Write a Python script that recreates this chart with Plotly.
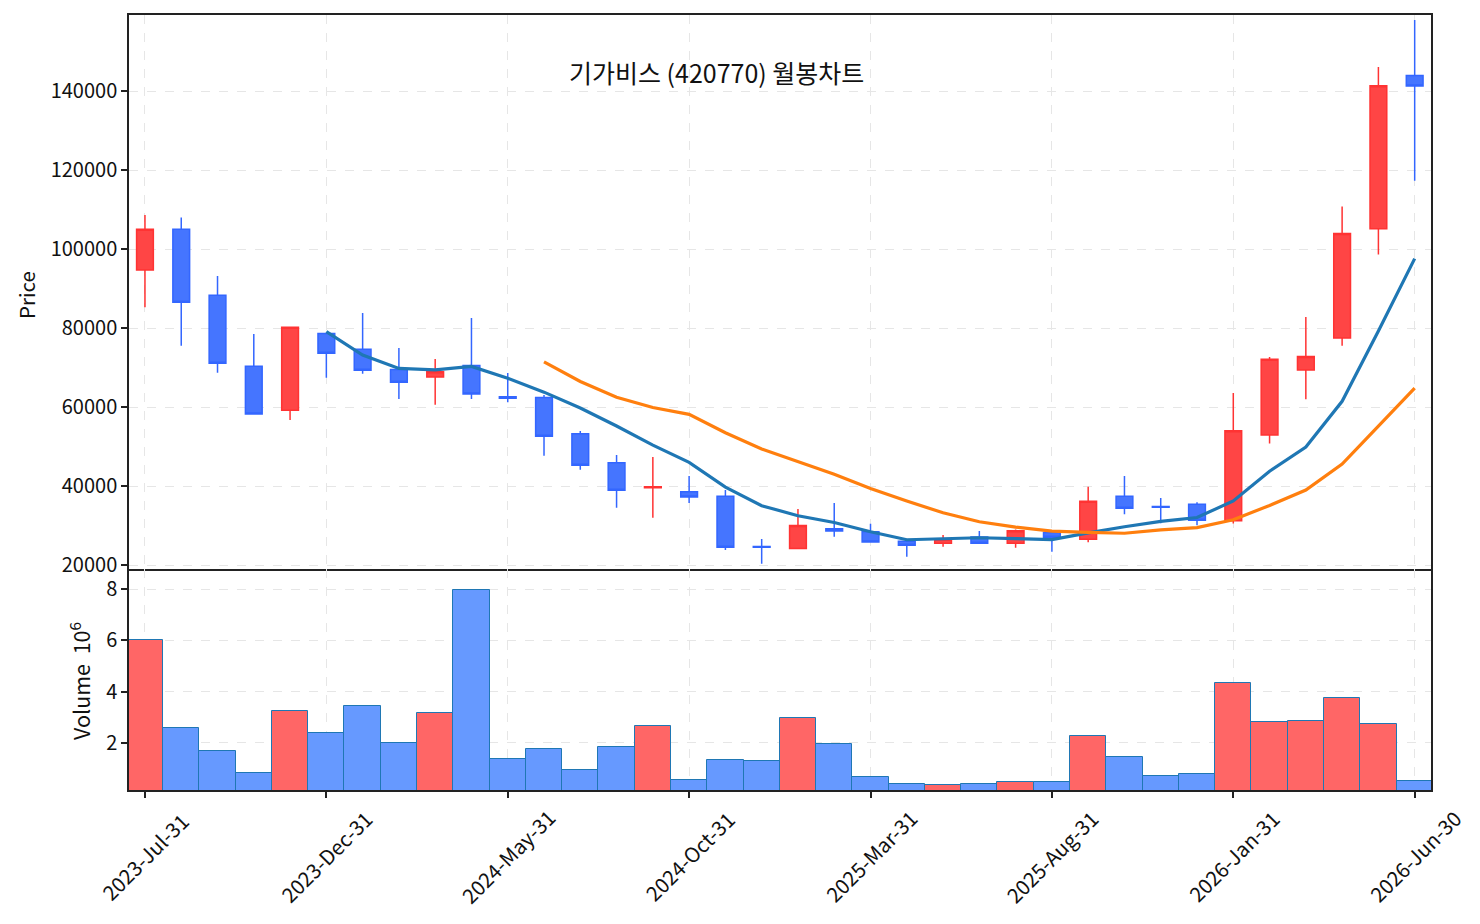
import plotly.graph_objects as go
import pandas as pd

# ---- data (monthly candles) ----
date_labels = ["2023-Jul-31", "2023-Aug-31", "2023-Sep-30", "2023-Oct-31", "2023-Nov-30", "2023-Dec-31",
               "2024-Jan-31", "2024-Feb-29", "2024-Mar-31", "2024-Apr-30", "2024-May-31", "2024-Jun-30",
               "2024-Jul-31", "2024-Aug-31", "2024-Sep-30", "2024-Oct-31", "2024-Nov-30", "2024-Dec-31",
               "2025-Jan-31", "2025-Feb-28", "2025-Mar-31", "2025-Apr-30", "2025-May-31", "2025-Jun-30",
               "2025-Jul-31", "2025-Aug-31", "2025-Sep-30", "2025-Oct-31", "2025-Nov-30", "2025-Dec-31",
               "2026-Jan-31", "2026-Feb-28", "2026-Mar-31", "2026-Apr-30", "2026-May-31", "2026-Jun-30"]

open_ = [94700, 105000, 88300, 70300, 59200, 78600, 74600, 69500, 67600, 70500, 62600, 62400,
         53200, 45900, 39550, 38560, 37390, 24700, 24200, 29200, 28430, 26000, 25500, 27100,
         25500, 28200, 26500, 37390, 34800, 35360, 31200, 52900, 69400, 77500, 105100, 143900]
high = [108600, 108000, 93160, 78480, 80250, 78650, 83800, 74940, 72150, 82530, 68600, 63040,
        53920, 47850, 47340, 42530, 38990, 26580, 34180, 35700, 30460, 26000, 27600, 28600,
        29000, 28400, 39820, 42530, 36960, 35870, 63570, 72660, 82760, 110790, 146050, 157970]
low = [85240, 75500, 68700, 58200, 56700, 67420, 68430, 62030, 60580, 62030, 61200, 47670,
       44130, 34510, 31980, 35700, 23800, 20330, 24200, 27170, 25820, 22100, 24630, 25490,
       24380, 23370, 25750, 32840, 30550, 30050, 30480, 50730, 61950, 75520, 98580, 117290]
close = [105000, 86500, 71100, 58200, 80200, 73600, 69300, 66250, 68950, 63290, 62200, 52600,
         45240, 38900, 39800, 37210, 24480, 24500, 30000, 28600, 25820, 24990, 26500, 25500,
         28680, 27010, 36120, 34350, 34600, 31310, 54000, 72080, 72810, 103900, 141340, 141240]
volume_millions = [6.0, 2.57, 1.69, 0.83, 3.23, 2.38, 3.44, 2.0, 3.16, 7.95, 1.38, 1.75,
                   0.95, 1.83, 2.66, 0.55, 1.32, 1.29, 2.96, 1.95, 0.66, 0.39, 0.36, 0.39,
                   0.47, 0.47, 2.26, 1.44, 0.70, 0.78, 4.32, 2.81, 2.84, 3.74, 2.73, 0.51]
ma_windows = [6, 12]
price_ticks = [20000, 40000, 60000, 80000, 100000, 120000, 140000]
volume_ticks = [2, 4, 6, 8]
title_text = "기가비스 (420770) 월봉차트"

# ---- derived ----
idx = list(range(len(close)))
close_s = pd.Series(close)
ma_short = close_s.rolling(ma_windows[0]).mean()
ma_long = close_s.rolling(ma_windows[1]).mean()
up = [c >= o for o, c in zip(open_, close)]
vol_colors = ["#ff6666" if u else "#6699ff" for u in up]
tick_idx = idx[::5]
tick_txt = [date_labels[i] for i in tick_idx]

FONT = "Noto Sans CJK KR"
AXC = "#222222"
GRID = "#e6e6e6"
FS = 20.5

fig = go.Figure()
fig.add_trace(go.Candlestick(
    x=idx, open=open_, high=high, low=low, close=close,
    increasing=dict(line=dict(color="#ff3333", width=1.5), fillcolor="#ff4545"),
    decreasing=dict(line=dict(color="#3366ff", width=1.5), fillcolor="#4575ff"),
    whiskerwidth=0, xaxis="x", yaxis="y", showlegend=False))
fig.add_trace(go.Scatter(x=idx, y=ma_short, mode="lines",
                         line=dict(color="#1f77b4", width=3.2), xaxis="x", yaxis="y", showlegend=False))
fig.add_trace(go.Scatter(x=idx, y=ma_long, mode="lines",
                         line=dict(color="#ff7f0e", width=3.2), xaxis="x", yaxis="y", showlegend=False))
fig.add_trace(go.Bar(x=idx, y=volume_millions, width=1.0,
                     marker=dict(color=vol_colors, line=dict(color="#1f77b4", width=1)),
                     xaxis="x2", yaxis="y2", showlegend=False))

W, H = 1480, 924
ml, mr, mt, mb = 129, 49, 15, 134
ph = H - mt - mb
split = (790 - 569) / ph

xr = [-0.44, 35.45]
common_x = dict(range=xr, showline=True, linecolor=AXC, linewidth=1.5,
                showgrid=True, gridcolor=GRID, griddash="dash", gridwidth=1,
                tickvals=tick_idx, zeroline=False, rangeslider=dict(visible=False))
common_y = dict(showline=True, mirror=True, linecolor=AXC, linewidth=1.5,
                ticks="outside", ticklen=6, tickwidth=1.5, tickcolor=AXC,
                showgrid=True, gridcolor=GRID, griddash="dash", zeroline=False,
                tickfont=dict(family=FONT, size=20, color="#111111"))

fig.update_layout(
    width=W, height=H,
    margin=dict(l=ml, r=mr, t=mt, b=mb),
    paper_bgcolor="white", plot_bgcolor="white",
    font=dict(family=FONT, size=FS, color="#111111"),
    boxgap=0.34, bargap=0,
    xaxis=dict(**common_x, mirror=True, domain=[0, 1], anchor="y", showticklabels=False, ticks=""),
    xaxis2=dict(**common_x, mirror=False, domain=[0, 1], anchor="y2", showticklabels=False,
                ticks="outside", ticklen=6, tickwidth=1.5, tickcolor=AXC),
    yaxis=dict(**common_y, domain=[split, 1], anchor="x", range=[18990, 159240],
               tickvals=price_ticks, ticktext=[str(v) for v in price_ticks]),
    yaxis2=dict(**common_y, domain=[0, split], anchor="x2", range=[0.15, 8.79],
                tickvals=volume_ticks, ticktext=[str(v) for v in volume_ticks]),
)

pw = W - ml - mr
def px2paper_x(px):
    return (px - ml) / pw
def px2paper_y(py):
    return (H - mb - py) / ph

for ti, tt in zip(tick_idx, tick_txt):
    fig.add_annotation(text=tt, x=ti, xref="x2", y=px2paper_y(856), yref="paper",
                       showarrow=False, textangle=-45, xanchor="center", yanchor="middle",
                       font=dict(family=FONT, size=FS, color="#111111"))

fig.add_annotation(text=title_text, x=px2paper_x(716), y=px2paper_y(72), xref="paper", yref="paper",
                   showarrow=False, xanchor="center", yanchor="middle",
                   font=dict(family=FONT, size=25, color="#111111"))
fig.add_annotation(text="Price", x=px2paper_x(26), y=px2paper_y(295), xref="paper", yref="paper",
                   showarrow=False, textangle=-90, xanchor="center", yanchor="middle",
                   font=dict(family=FONT, size=FS, color="#111111"))
fig.add_annotation(text="Volume  10<sup>6</sup>", x=px2paper_x(80), y=px2paper_y(681), xref="paper",
                   yref="paper", showarrow=False, textangle=-90, xanchor="center", yanchor="middle",
                   font=dict(family=FONT, size=21.5, color="#111111"))

fig.write_html("out.html")
